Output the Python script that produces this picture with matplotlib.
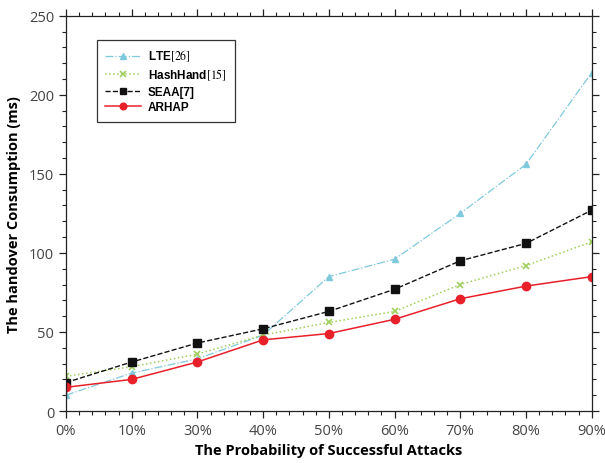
import matplotlib
matplotlib.use('Agg')
import matplotlib.pyplot as plt
from matplotlib.ticker import MultipleLocator, AutoMinorLocator

plt.rcParams['mathtext.fontset'] = 'stix'

# data
x_labels = ['0%', '10%', '30%', '40%', '50%', '60%', '70%', '80%', '90%']
lte = [10, 24, 33, 48, 85, 96, 125, 156, 214]
hashhand = [22, 28, 36, 48, 56, 63, 80, 92, 107]
seaa = [18, 31, 43, 52, 63, 77, 95, 106, 127]
arhap = [15, 20, 31, 45, 49, 58, 71, 79, 85]

x = list(range(len(x_labels)))

fig = plt.figure(figsize=(6.05, 4.64), dpi=100)
ax = fig.add_axes([0.109, 0.112, 0.869, 0.852])

ax.plot(x, lte, color='#7fc9dc', linestyle='-.', linewidth=0.9,
        marker='^', markersize=5, label=r'LTE$[26]$')
ax.plot(x, hashhand, color='#9fcf5a', linestyle=':', linewidth=1.1,
        marker='x', markersize=5, markeredgewidth=1.2, label=r'HashHand$[15]$')
ax.plot(x, seaa, color='#111111', linestyle='--', linewidth=1.0,
        marker='s', markersize=6, label='SEAA[7]')
ax.plot(x, arhap, color='#e8202a', linestyle='-', linewidth=1.1,
        marker='o', markersize=6, label='ARHAP')

ax.set_xlim(0, 8)
ax.set_ylim(0, 250)
ax.set_xticks(x)
ax.set_xticklabels(x_labels)
ax.xaxis.set_minor_locator(AutoMinorLocator(5))
ax.yaxis.set_major_locator(MultipleLocator(50))
ax.yaxis.set_minor_locator(MultipleLocator(10))

ax.tick_params(which='both', direction='out', top=True, right=True,
               labeltop=False, labelright=False, colors='#222222')
ax.tick_params(which='major', length=5, width=0.9, labelsize=10.5,
               labelcolor='#444444')
ax.tick_params(which='minor', length=3, width=0.8)
for lbl in ax.get_xticklabels() + ax.get_yticklabels():
    lbl.set_family('Open Sans')

for sp in ax.spines.values():
    sp.set_linewidth(0.9)
    sp.set_color('#222222')

ax.set_xlabel('The Probability of Successful Attacks', fontsize=10.5,
              fontweight='bold', family='Open Sans', labelpad=4)
ax.set_ylabel('The handover Consumption (ms)', fontsize=10.5,
              fontweight='bold', family='Open Sans', labelpad=6)

leg = ax.legend(loc='upper left', bbox_to_anchor=(0.059, 0.939), borderaxespad=0,
                fancybox=False, framealpha=1, edgecolor='#333333',
                prop={'family': 'Liberation Sans', 'weight': 'bold', 'size': 8.5},
                handlelength=3.0, handletextpad=0.6, borderpad=0.7,
                labelspacing=0.3, markerscale=0.8)
leg.get_frame().set_linewidth(0.9)

plt.savefig('out.png', dpi=100)
